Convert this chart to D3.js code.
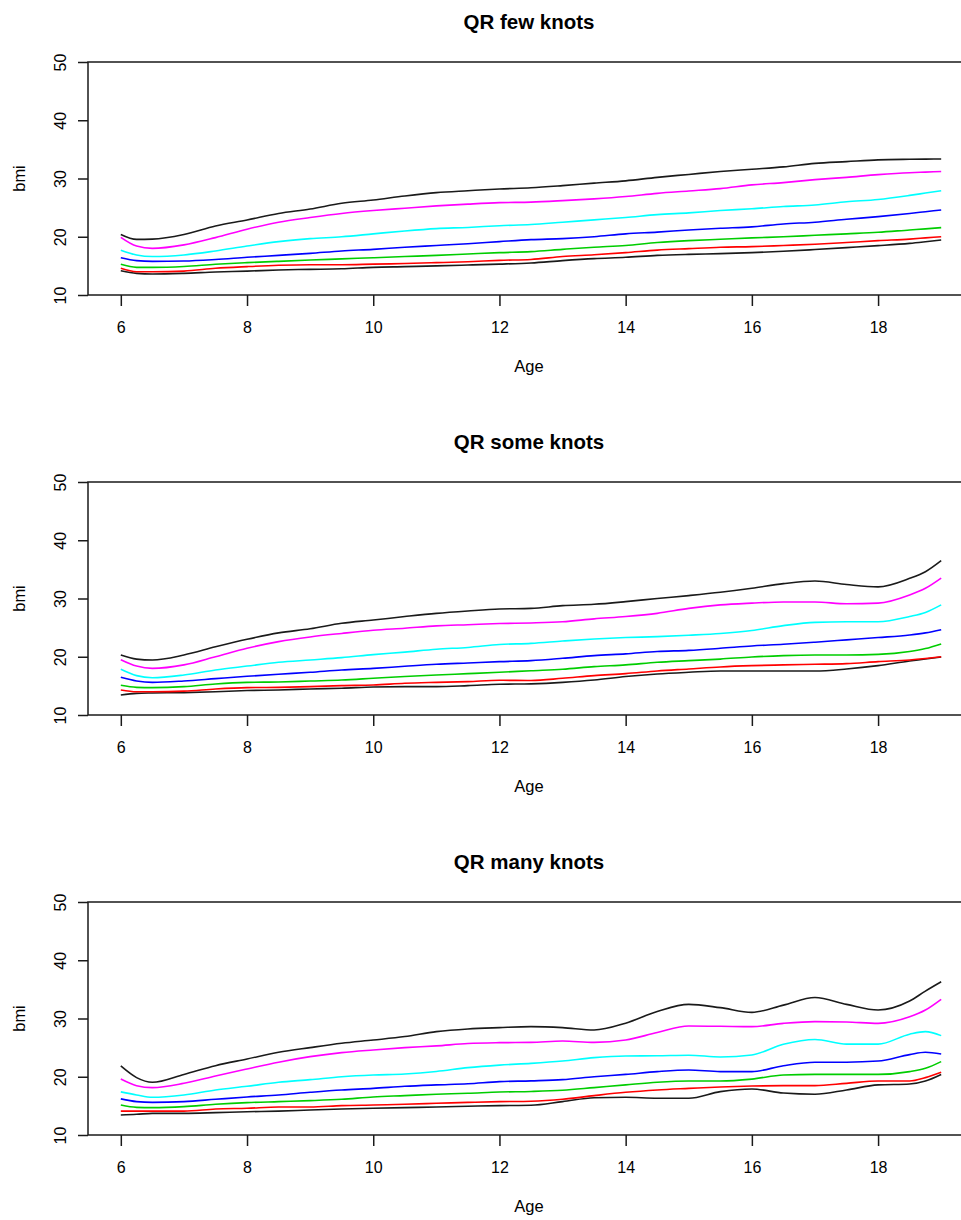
<!DOCTYPE html>
<html>
<head>
<meta charset="utf-8">
<script src="https://cdn.jsdelivr.net/npm/d3@7"></script>
<style>
  body { margin: 0; background: #fff; }
  text { font-family: "Liberation Sans", Arial, sans-serif; fill: #000; }
</style>
</head>
<body>
<div id="chart"></div>
<script>
const ages = [6, 6.25, 6.5, 7, 7.5, 8, 8.5, 9, 9.5, 10, 10.5, 11, 11.5, 12, 12.5,
    13, 13.5, 14, 14.5, 15, 15.5, 16, 16.5, 17, 17.5, 18, 18.5, 18.75, 19];
const ageTicks = [6, 8, 10, 12, 14, 16, 18];
const bmiTicks = [10, 20, 30, 40, 50];
const panelTitles = ["QR few knots", "QR some knots", "QR many knots"];
// quantile curves from lowest to highest
const quantileColors = ["#1a1a1a", "#ff0000", "#00cd00", "#0000ff", "#00ffff", "#ff00ff", "#1a1a1a"];

const fewKnots = [
    [14.18, 13.72, 13.6, 13.72, 13.95, 14.1, 14.3, 14.4, 14.5, 14.75, 14.87, 15.0, 15.15, 15.3, 15.5, 15.9, 16.24, 16.47, 16.8, 16.98, 17.1, 17.27, 17.5, 17.8, 18.13, 18.47, 18.87, 19.15, 19.45],
    [14.58, 14.0, 14.0, 14.1, 14.58, 14.87, 15.1, 15.2, 15.2, 15.3, 15.4, 15.55, 15.7, 15.95, 16.1, 16.6, 16.9, 17.27, 17.7, 17.96, 18.2, 18.3, 18.5, 18.7, 19.0, 19.33, 19.6, 19.8, 20.0],
    [15.27, 14.75, 14.75, 14.9, 15.27, 15.55, 15.78, 16.0, 16.2, 16.4, 16.6, 16.8, 17.04, 17.27, 17.45, 17.84, 18.2, 18.5, 19.0, 19.33, 19.56, 19.8, 20.0, 20.25, 20.5, 20.76, 21.16, 21.35, 21.56],
    [16.4, 15.9, 15.78, 15.84, 16.1, 16.47, 16.8, 17.15, 17.56, 17.84, 18.2, 18.5, 18.8, 19.16, 19.5, 19.67, 20.0, 20.5, 20.8, 21.16, 21.45, 21.7, 22.2, 22.5, 23.0, 23.45, 24.0, 24.3, 24.6],
    [17.7, 16.87, 16.6, 16.87, 17.56, 18.4, 19.16, 19.67, 20.0, 20.5, 21.0, 21.4, 21.6, 21.9, 22.1, 22.5, 22.9, 23.3, 23.8, 24.1, 24.5, 24.8, 25.2, 25.45, 26.0, 26.4, 27.1, 27.5, 27.9],
    [19.9, 18.4, 18.0, 18.6, 19.85, 21.3, 22.5, 23.3, 24.0, 24.5, 24.9, 25.3, 25.6, 25.85, 25.95, 26.2, 26.5, 26.9, 27.45, 27.85, 28.26, 28.9, 29.3, 29.8, 30.2, 30.66, 31.0, 31.1, 31.2],
    [20.4, 19.55, 19.6, 20.4, 21.85, 22.88, 24.0, 24.76, 25.74, 26.31, 27.0, 27.57, 27.9, 28.2, 28.4, 28.77, 29.2, 29.6, 30.2, 30.7, 31.2, 31.6, 32.0, 32.6, 32.9, 33.2, 33.3, 33.33, 33.35]
];

const someKnots = [
    [13.44, 13.72, 13.78, 13.84, 14.0, 14.2, 14.3, 14.47, 14.6, 14.8, 14.87, 14.87, 15.04, 15.27, 15.35, 15.6, 16.0, 16.6, 17.04, 17.33, 17.56, 17.56, 17.56, 17.56, 17.9, 18.47, 19.27, 19.6, 19.96],
    [14.3, 14.0, 14.0, 14.1, 14.47, 14.7, 14.75, 14.87, 15.04, 15.15, 15.44, 15.6, 15.73, 15.96, 15.92, 16.3, 16.76, 17.1, 17.56, 17.9, 18.25, 18.47, 18.6, 18.7, 18.82, 19.16, 19.45, 19.7, 20.0],
    [15.1, 14.75, 14.7, 14.87, 15.33, 15.6, 15.67, 15.84, 16.0, 16.3, 16.6, 16.87, 17.1, 17.33, 17.6, 17.85, 18.3, 18.6, 19.05, 19.33, 19.6, 19.96, 20.2, 20.3, 20.3, 20.4, 20.9, 21.4, 22.2],
    [16.47, 15.84, 15.6, 15.84, 16.24, 16.64, 17.0, 17.33, 17.73, 18.0, 18.36, 18.7, 18.93, 19.16, 19.33, 19.73, 20.2, 20.5, 20.9, 21.1, 21.45, 21.85, 22.14, 22.5, 22.9, 23.3, 23.74, 24.1, 24.65],
    [17.85, 16.76, 16.4, 16.87, 17.73, 18.4, 19.05, 19.45, 19.85, 20.36, 20.8, 21.3, 21.6, 22.1, 22.3, 22.7, 23.05, 23.3, 23.45, 23.7, 24.0, 24.5, 25.34, 25.9, 26.0, 26.0, 26.9, 27.6, 28.9],
    [19.5, 18.4, 18.0, 18.6, 20.0, 21.45, 22.6, 23.4, 24.0, 24.54, 24.9, 25.3, 25.5, 25.7, 25.8, 26.0, 26.5, 26.9, 27.45, 28.3, 28.9, 29.2, 29.4, 29.4, 29.1, 29.2, 30.6, 31.75, 33.5],
    [20.3, 19.6, 19.45, 20.3, 21.7, 23.0, 24.1, 24.8, 25.74, 26.3, 26.9, 27.45, 27.86, 28.2, 28.3, 28.77, 29.0, 29.46, 30.0, 30.5, 31.06, 31.75, 32.55, 33.0, 32.4, 32.0, 33.46, 34.6, 36.5]
];

const manyKnots = [
    [13.44, 13.55, 13.72, 13.72, 13.84, 14.0, 14.1, 14.3, 14.47, 14.6, 14.7, 14.8, 14.93, 15.04, 15.1, 15.73, 16.4, 16.47, 16.3, 16.3, 17.44, 17.9, 17.2, 17.0, 17.73, 18.6, 18.76, 19.27, 20.4],
    [14.1, 14.1, 14.1, 14.1, 14.47, 14.6, 14.8, 14.8, 15.04, 15.15, 15.27, 15.44, 15.6, 15.73, 15.8, 16.13, 16.76, 17.33, 17.73, 18.0, 18.25, 18.4, 18.47, 18.47, 18.87, 19.27, 19.27, 19.85, 20.76],
    [15.15, 14.75, 14.7, 14.87, 15.27, 15.56, 15.73, 15.9, 16.13, 16.53, 16.76, 17.0, 17.16, 17.38, 17.47, 17.67, 18.13, 18.6, 19.05, 19.27, 19.27, 19.6, 20.3, 20.4, 20.4, 20.4, 20.88, 21.45, 22.6],
    [16.2, 15.73, 15.6, 15.73, 16.13, 16.53, 16.87, 17.33, 17.73, 18.0, 18.36, 18.6, 18.8, 19.16, 19.3, 19.5, 20.0, 20.4, 20.88, 21.16, 20.88, 20.88, 21.9, 22.5, 22.5, 22.7, 23.8, 24.2, 23.9],
    [17.4, 16.87, 16.47, 16.87, 17.73, 18.36, 19.05, 19.5, 20.0, 20.3, 20.47, 20.9, 21.56, 22.0, 22.3, 22.7, 23.28, 23.56, 23.6, 23.7, 23.4, 23.74, 25.57, 26.4, 25.6, 25.6, 27.3, 27.74, 27.06],
    [19.6, 18.47, 18.13, 18.87, 20.13, 21.33, 22.5, 23.45, 24.14, 24.6, 25.0, 25.3, 25.7, 25.85, 25.9, 26.14, 25.9, 26.3, 27.6, 28.7, 28.66, 28.6, 29.17, 29.46, 29.4, 29.17, 30.3, 31.46, 33.3],
    [21.85, 19.85, 19.05, 20.4, 21.9, 23.05, 24.2, 25.0, 25.74, 26.3, 26.9, 27.74, 28.2, 28.43, 28.6, 28.43, 28.03, 29.2, 31.2, 32.43, 31.86, 31.06, 32.3, 33.6, 32.43, 31.46, 33.0, 34.7, 36.3]
];

class QuantilePanel {
    constructor(svg, top, title, curves) {
        this.svg = svg;
        this.top = top;
        this.title = title;
        this.curves = curves;
        this.left = 88;
        this.right = 974;   // box runs past the page edge, like the source
        this.height = 233;
        this.x = d3.scaleLinear().domain([5.48, 19.52]).range([this.left, this.right]);
        this.y = d3.scaleLinear().domain([10, 50]).range([top + this.height, top]);
    }

    draw() {
        const g = this.svg.append("g");
        const midX = (this.left + this.right) / 2;

        g.append("text")
            .attr("x", midX - 2)
            .attr("y", this.top - 33)
            .attr("text-anchor", "middle")
            .style("font-size", "20.5px")
            .style("font-weight", "bold")
            .text(this.title);

        const line = d3.line()
            .x((d, i) => this.x(ages[i]))
            .y(d => this.y(d))
            .curve(d3.curveMonotoneX);

        this.curves.forEach((values, k) => {
            g.append("path")
                .attr("d", line(values))
                .attr("fill", "none")
                .attr("stroke", quantileColors[k])
                .attr("stroke-width", 1.6);
        });

        g.append("rect")
            .attr("x", this.left)
            .attr("y", this.top)
            .attr("width", this.right - this.left)
            .attr("height", this.height)
            .attr("fill", "none")
            .attr("stroke", "#1a1a1a")
            .attr("stroke-width", 1.5);

        const xAxis = g.append("g")
            .attr("transform", `translate(0, ${this.top + this.height})`)
            .call(d3.axisBottom(this.x).tickValues(ageTicks).tickSize(11).tickFormat(d3.format("d")));
        xAxis.select(".domain").remove();
        xAxis.selectAll("line").attr("stroke", "#1a1a1a").attr("stroke-width", 1.5);
        xAxis.selectAll("text")
            .attr("y", 38)
            .attr("dy", null)
            .style("font-size", "16px")
            .attr("fill", "#000")
            .style("font-family", "'Liberation Sans', Arial, sans-serif");

        const yAxis = g.append("g")
            .attr("transform", `translate(${this.left}, 0)`)
            .call(d3.axisLeft(this.y).tickValues(bmiTicks).tickSize(10));
        yAxis.select(".domain").remove();
        yAxis.selectAll("line").attr("stroke", "#1a1a1a").attr("stroke-width", 1.5);
        yAxis.selectAll("text")
            .attr("x", null)
            .attr("dy", null)
            .attr("text-anchor", "middle")
            .attr("transform", "translate(-22, 0) rotate(-90)")
            .style("font-size", "16px")
            .attr("fill", "#000")
            .style("font-family", "'Liberation Sans', Arial, sans-serif");

        g.append("text")
            .attr("x", midX - 2)
            .attr("y", this.top + this.height + 77)
            .attr("text-anchor", "middle")
            .style("font-size", "16.5px")
            .text("Age");

        g.append("text")
            .attr("transform", `translate(25, ${this.top + this.height / 2}) rotate(-90)`)
            .attr("text-anchor", "middle")
            .style("font-size", "16.5px")
            .text("bmi");
    }
}

const svg = d3.select("#chart").append("svg")
    .attr("width", 961)
    .attr("height", 1220);

[fewKnots, someKnots, manyKnots].forEach((curves, i) => {
    new QuantilePanel(svg, 62 + i * 420, panelTitles[i], curves).draw();
});
</script>
</body>
</html>
